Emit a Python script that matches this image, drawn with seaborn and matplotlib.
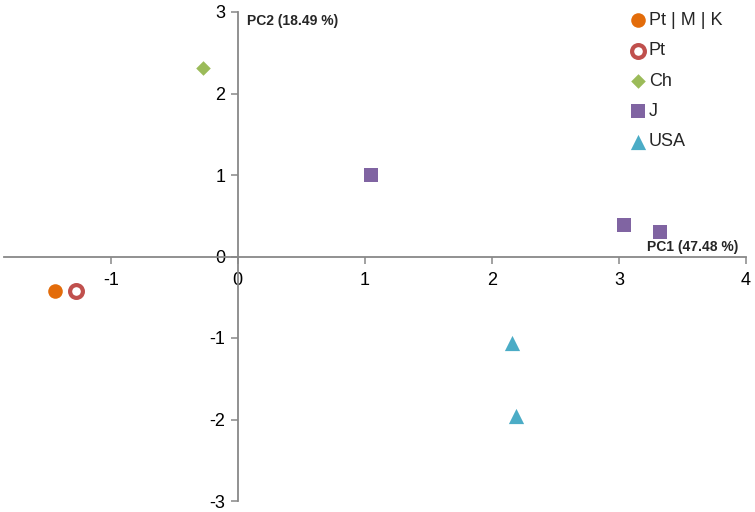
import numpy as np
import pandas as pd
import seaborn as sns
import matplotlib.pyplot as plt

# PCA scores
groups = ["Pt | M | K", "Pt", "Ch", "J", "J", "J", "USA", "USA"]
pc1 = [-1.44, -1.27, -0.27, 1.05, 3.04, 3.32, 2.16, 2.19]
pc2 = [-0.42, -0.42, 2.31, 1.0, 0.39, 0.30, -1.06, -1.96]

legend_order = ["Pt | M | K", "Pt", "Ch", "J", "USA"]
x_ticks = [-1, 0, 1, 2, 3, 4]
y_ticks = [-3, -2, -1, 0, 1, 2, 3]

styles = {
    "Pt | M | K": dict(marker="o", color="#E36C0A", edgecolor="#E36C0A", s=110, linewidth=0),
    "Pt": dict(marker="o", color="white", edgecolor="#C0504D", s=85, linewidth=3),
    "Ch": dict(marker="D", color="#9BBB59", edgecolor="#9BBB59", s=55, linewidth=0),
    "J": dict(marker="s", color="#8064A2", edgecolor="#8064A2", s=110, linewidth=0),
    "USA": dict(marker="^", color="#4BACC6", edgecolor="#4BACC6", s=120, linewidth=0),
}

df = pd.DataFrame({"group": groups, "pc1": pc1, "pc2": pc2})

sns.set_style("white")
plt.rcParams["font.family"] = ["Liberation Sans", "DejaVu Sans"]

fig = plt.figure(figsize=(7.55, 5.12), dpi=100)
ax = fig.add_axes([4 / 755, 1 - 501 / 512, 742 / 755, 489 / 512])

for g in legend_order:
    sub = df[df["group"] == g]
    sns.scatterplot(data=sub, x="pc1", y="pc2", ax=ax, label=g, zorder=3, **styles[g])

ax.set_xlim(-1.84, 4)
ax.set_ylim(-3, 3)
ax.set_xticks(x_ticks)
ax.set_yticks(y_ticks)
ax.set_xlabel("")
ax.set_ylabel("")

axis_col = "#888888"
ax.spines["left"].set_position(("data", 0))
ax.spines["bottom"].set_position(("data", 0))
ax.spines["top"].set_visible(False)
ax.spines["right"].set_visible(False)
for sp in ["left", "bottom"]:
    ax.spines[sp].set_color(axis_col)
    ax.spines[sp].set_linewidth(1.3)
ax.tick_params(axis="both", direction="out", length=5, width=1.1, color=axis_col,
               labelsize=13, labelcolor="black", bottom=True, left=True)
ax.tick_params(axis="x", pad=6)
ax.tick_params(axis="y", pad=4)
ax.set_xticklabels([str(t) for t in x_ticks])
ax.set_yticklabels([str(t) for t in y_ticks])

ax.text(0.07, 2.97, "PC2 (18.49 %)", fontsize=10, fontweight="bold", ha="left", va="top")
ax.text(3.94, 0.03, "PC1 (47.48 %)", fontsize=10, fontweight="bold", ha="right", va="bottom")

leg = ax.legend(loc="upper left", bbox_to_anchor=(0.83, 1.015), frameon=False, fontsize=13,
                handletextpad=0.0, labelspacing=0.74, borderaxespad=0, handlelength=1.2)

fig.savefig("out.png", dpi=100)
